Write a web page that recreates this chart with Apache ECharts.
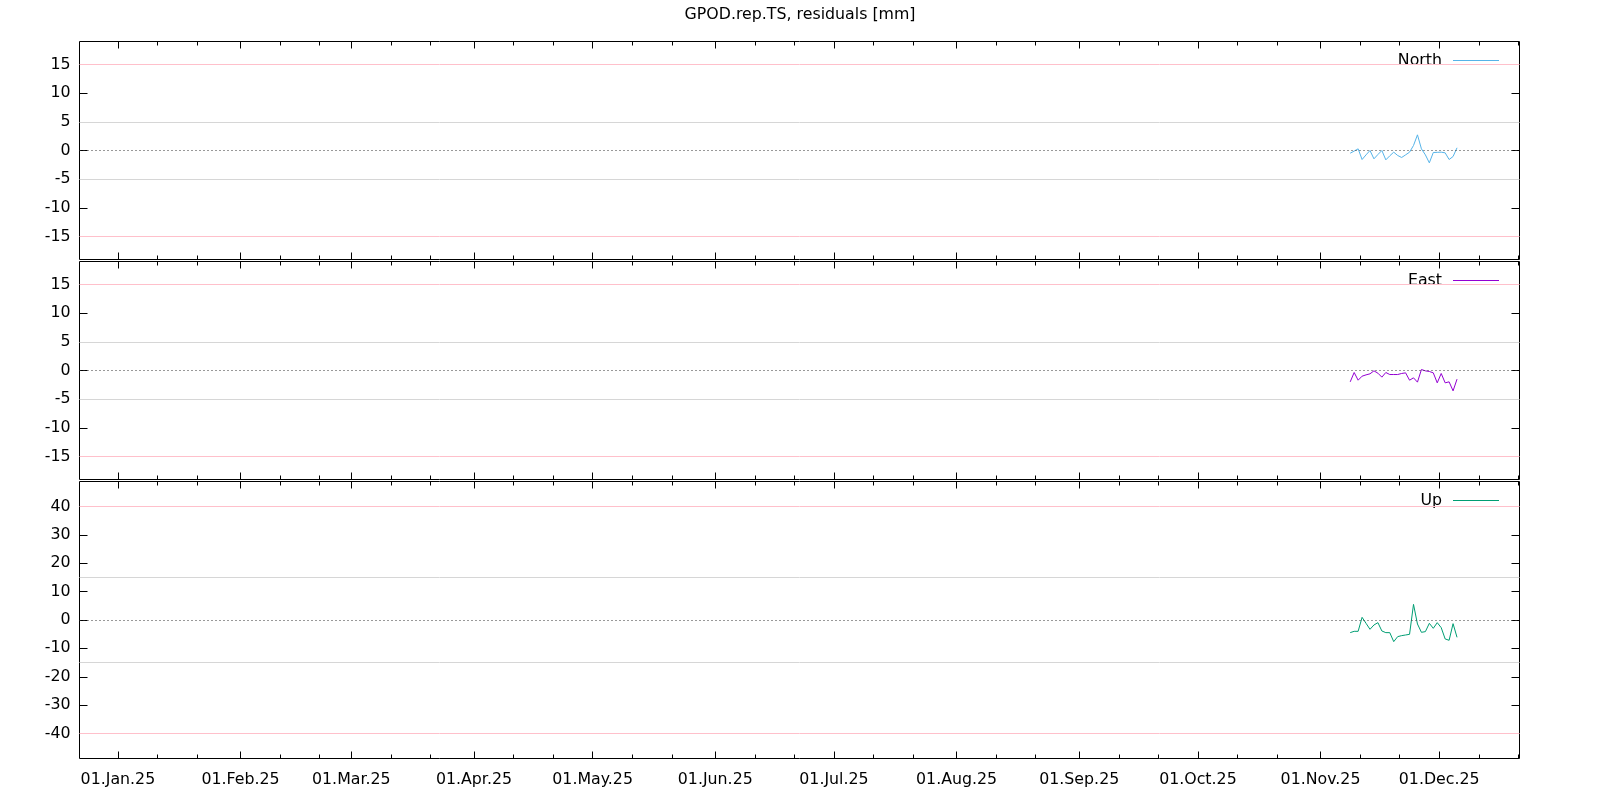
<!DOCTYPE html>
<html><head><meta charset="utf-8">
<script src="https://cdn.jsdelivr.net/npm/echarts@6/dist/echarts.min.js"></script>
<style>html,body{margin:0;padding:0;background:#fff}#c{width:1600px;height:800px}</style>
</head><body><div id="c"></div>
<script>
const chartTitle = 'GPOD.rep.TS, residuals [mm]';
const dates = ['2025-11-08','2025-11-09','2025-11-10','2025-11-11','2025-11-12','2025-11-13','2025-11-14',
  '2025-11-15','2025-11-16','2025-11-17','2025-11-18','2025-11-19','2025-11-20','2025-11-21','2025-11-22',
  '2025-11-23','2025-11-24','2025-11-25','2025-11-26','2025-11-27','2025-11-28','2025-11-29','2025-11-30',
  '2025-12-01','2025-12-02','2025-12-03','2025-12-04','2025-12-05'];
const north = [-0.47,-0.1,0.29,-1.57,-0.76,0.0,-1.45,-0.7,0.0,-1.63,-0.93,-0.29,-0.87,-1.22,-0.76,-0.29,
  0.87,2.73,0.29,-0.76,-2.15,-0.35,-0.32,-0.29,-0.41,-1.57,-1.05,0.47];
const east = [-1.98,-0.35,-1.69,-0.99,-0.76,-0.58,-0.06,-0.47,-1.16,-0.35,-0.70,-0.70,-0.70,-0.52,-0.41,-1.69,
  -1.28,-2.03,0.17,-0.06,-0.17,-0.41,-2.15,-0.52,-2.15,-1.98,-3.55,-1.51];
const up = [-4.45,-3.99,-3.99,0.94,-1.17,-3.28,-1.76,-0.94,-3.87,-4.45,-4.45,-7.62,-5.86,-5.51,-5.28,-5.04,
  5.51,-1.41,-4.34,-4.10,-1.17,-2.93,-0.94,-2.70,-6.68,-7.15,-1.29,-6.10];
const seriesNames = ['North','East','Up'];
const xRange = ['2024-12-22T07:00:00Z','2025-12-21T07:00:00Z'];
const majorTickDates = ['2025-01-01','2025-02-01','2025-03-01','2025-04-01','2025-05-01','2025-06-01',
  '2025-07-01','2025-08-01','2025-09-01','2025-10-01','2025-11-01','2025-12-01'];
const minorTickDates = ['2025-01-11','2025-01-21','2025-02-11','2025-02-21','2025-03-11','2025-03-21',
  '2025-04-11','2025-04-21','2025-05-11','2025-05-21','2025-06-11','2025-06-21','2025-07-11','2025-07-21',
  '2025-08-11','2025-08-21','2025-09-11','2025-09-21','2025-10-11','2025-10-21','2025-11-11','2025-11-21',
  '2025-12-11','2025-12-21'];
const monthNames = ['Jan','Feb','Mar','Apr','May','Jun','Jul','Aug','Sep','Oct','Nov','Dec'];
const yTicksNE = [-15,-10,-5,0,5,10,15];
const yTicksUp = [-40,-30,-20,-10,0,10,20,30,40];
const yRangeNE = [-19,19];
const yRangeUp = [-48.8,48.8];
const grayLinesNE = [-5,5];
const pinkLinesNE = [-15,15];
const grayLinesUp = [-15,15];
const pinkLinesUp = [-40,40];
const zeroLine = [0];

const FONT = 'DejaVu Sans';
const FS = 15.8;
const ts = s => Date.parse(s.length === 10 ? s + 'T00:00:00Z' : s);
const xMin = ts(xRange[0]), xMax = ts(xRange[1]);
const majors = majorTickDates.map(ts);
const minors = minorTickDates.map(ts);
const pad = n => (n < 10 ? '0' : '') + n;
const fmt = v => { const d = new Date(v); return pad(d.getUTCDate()) + '.' + monthNames[d.getUTCMonth()] + '.' + String(d.getUTCFullYear()).slice(2); };

const panels = [
  {name: seriesNames[0], values: north, color: '#56b4e9', yTicks: yTicksNE, yRange: yRangeNE, gray: grayLinesNE, pink: pinkLinesNE, top: 41.5, height: 218},
  {name: seriesNames[1], values: east, color: '#9400d3', yTicks: yTicksNE, yRange: yRangeNE, gray: grayLinesNE, pink: pinkLinesNE, top: 261.5, height: 218},
  {name: seriesNames[2], values: up, color: '#009e73', yTicks: yTicksUp, yRange: yRangeUp, gray: grayLinesUp, pink: pinkLinesUp, top: 481.5, height: 277}
];

const grid = [], xAxis = [], yAxis = [], series = [], legend = [];
panels.forEach((p, i) => {
  grid.push({left: 79.5, right: 80.5, top: p.top, height: p.height, show: true, borderColor: '#000', borderWidth: 1, backgroundColor: 'transparent'});
  const base = {type: 'value', gridIndex: i, min: xMin, max: xMax, axisLine: {show: false, onZero: false}, splitLine: {show: false}};
  ['bottom', 'top'].forEach(pos => {
    xAxis.push(Object.assign({}, base, {position: pos,
      axisTick: {inside: true, length: 7, lineStyle: {color: '#000', width: 1}, customValues: majors},
      axisLabel: {show: pos === 'bottom' && i === 2, customValues: majors, formatter: fmt, margin: 13, color: '#000', fontSize: FS, fontFamily: FONT}}));
    xAxis.push(Object.assign({}, base, {position: pos,
      axisTick: {inside: true, length: 4, lineStyle: {color: '#000', width: 1}, customValues: minors},
      axisLabel: {show: false}}));
  });
  const ybase = {type: 'value', gridIndex: i, min: p.yRange[0], max: p.yRange[1], axisLine: {show: false, onZero: false}, splitLine: {show: false}};
  yAxis.push(Object.assign({}, ybase, {position: 'left',
    axisTick: {inside: true, length: 8, lineStyle: {color: '#000', width: 1}, customValues: p.yTicks},
    axisLabel: {customValues: p.yTicks, margin: 9, color: '#000', fontSize: FS, fontFamily: FONT}}));
  yAxis.push(Object.assign({}, ybase, {position: 'right',
    axisTick: {inside: true, length: 8, lineStyle: {color: '#000', width: 1}, customValues: p.yTicks},
    axisLabel: {show: false}}));
  const refs = [].concat(
    p.gray.map(v => ({yAxis: v, lineStyle: {color: '#d6d6d6', width: 1, type: 'solid'}})),
    p.pink.map(v => ({yAxis: v, lineStyle: {color: '#ffc0cb', width: 1, type: 'solid'}})),
    zeroLine.map(v => ({yAxis: v, lineStyle: {color: '#333', width: 1, type: [1, 3]}}))
  );
  series.push({type: 'line', name: 'ref' + i, data: [], xAxisIndex: i * 4, yAxisIndex: i * 2, z: 1, silent: true,
    markLine: {silent: true, symbol: ['none', 'none'], label: {show: false}, emphasis: {disabled: true}, data: refs}});
  series.push({type: 'line', name: p.name, xAxisIndex: i * 4, yAxisIndex: i * 2, z: 3, showSymbol: false, symbol: 'none',
    color: p.color, lineStyle: {color: p.color, width: 1},
    data: dates.map((d, k) => [ts(d + 'T12:00:00Z'), p.values[k]])});
  legend.push({data: [p.name], right: 96, top: p.top + 6, align: 'right', icon: 'rect', itemWidth: 46, itemHeight: 1,
    selectedMode: false, textStyle: {fontSize: FS, color: '#000', fontFamily: FONT, padding: [0, 6, 0, 0]}});
});

const chart = echarts.init(document.getElementById('c'), null, {renderer: 'canvas'});
chart.setOption({
  animation: false,
  backgroundColor: '#fff',
  title: {text: chartTitle, left: 'center', top: 2, textStyle: {fontSize: FS, fontWeight: 'normal', color: '#000', fontFamily: FONT}},
  grid, xAxis, yAxis, series, legend
});
</script>
</body></html>
